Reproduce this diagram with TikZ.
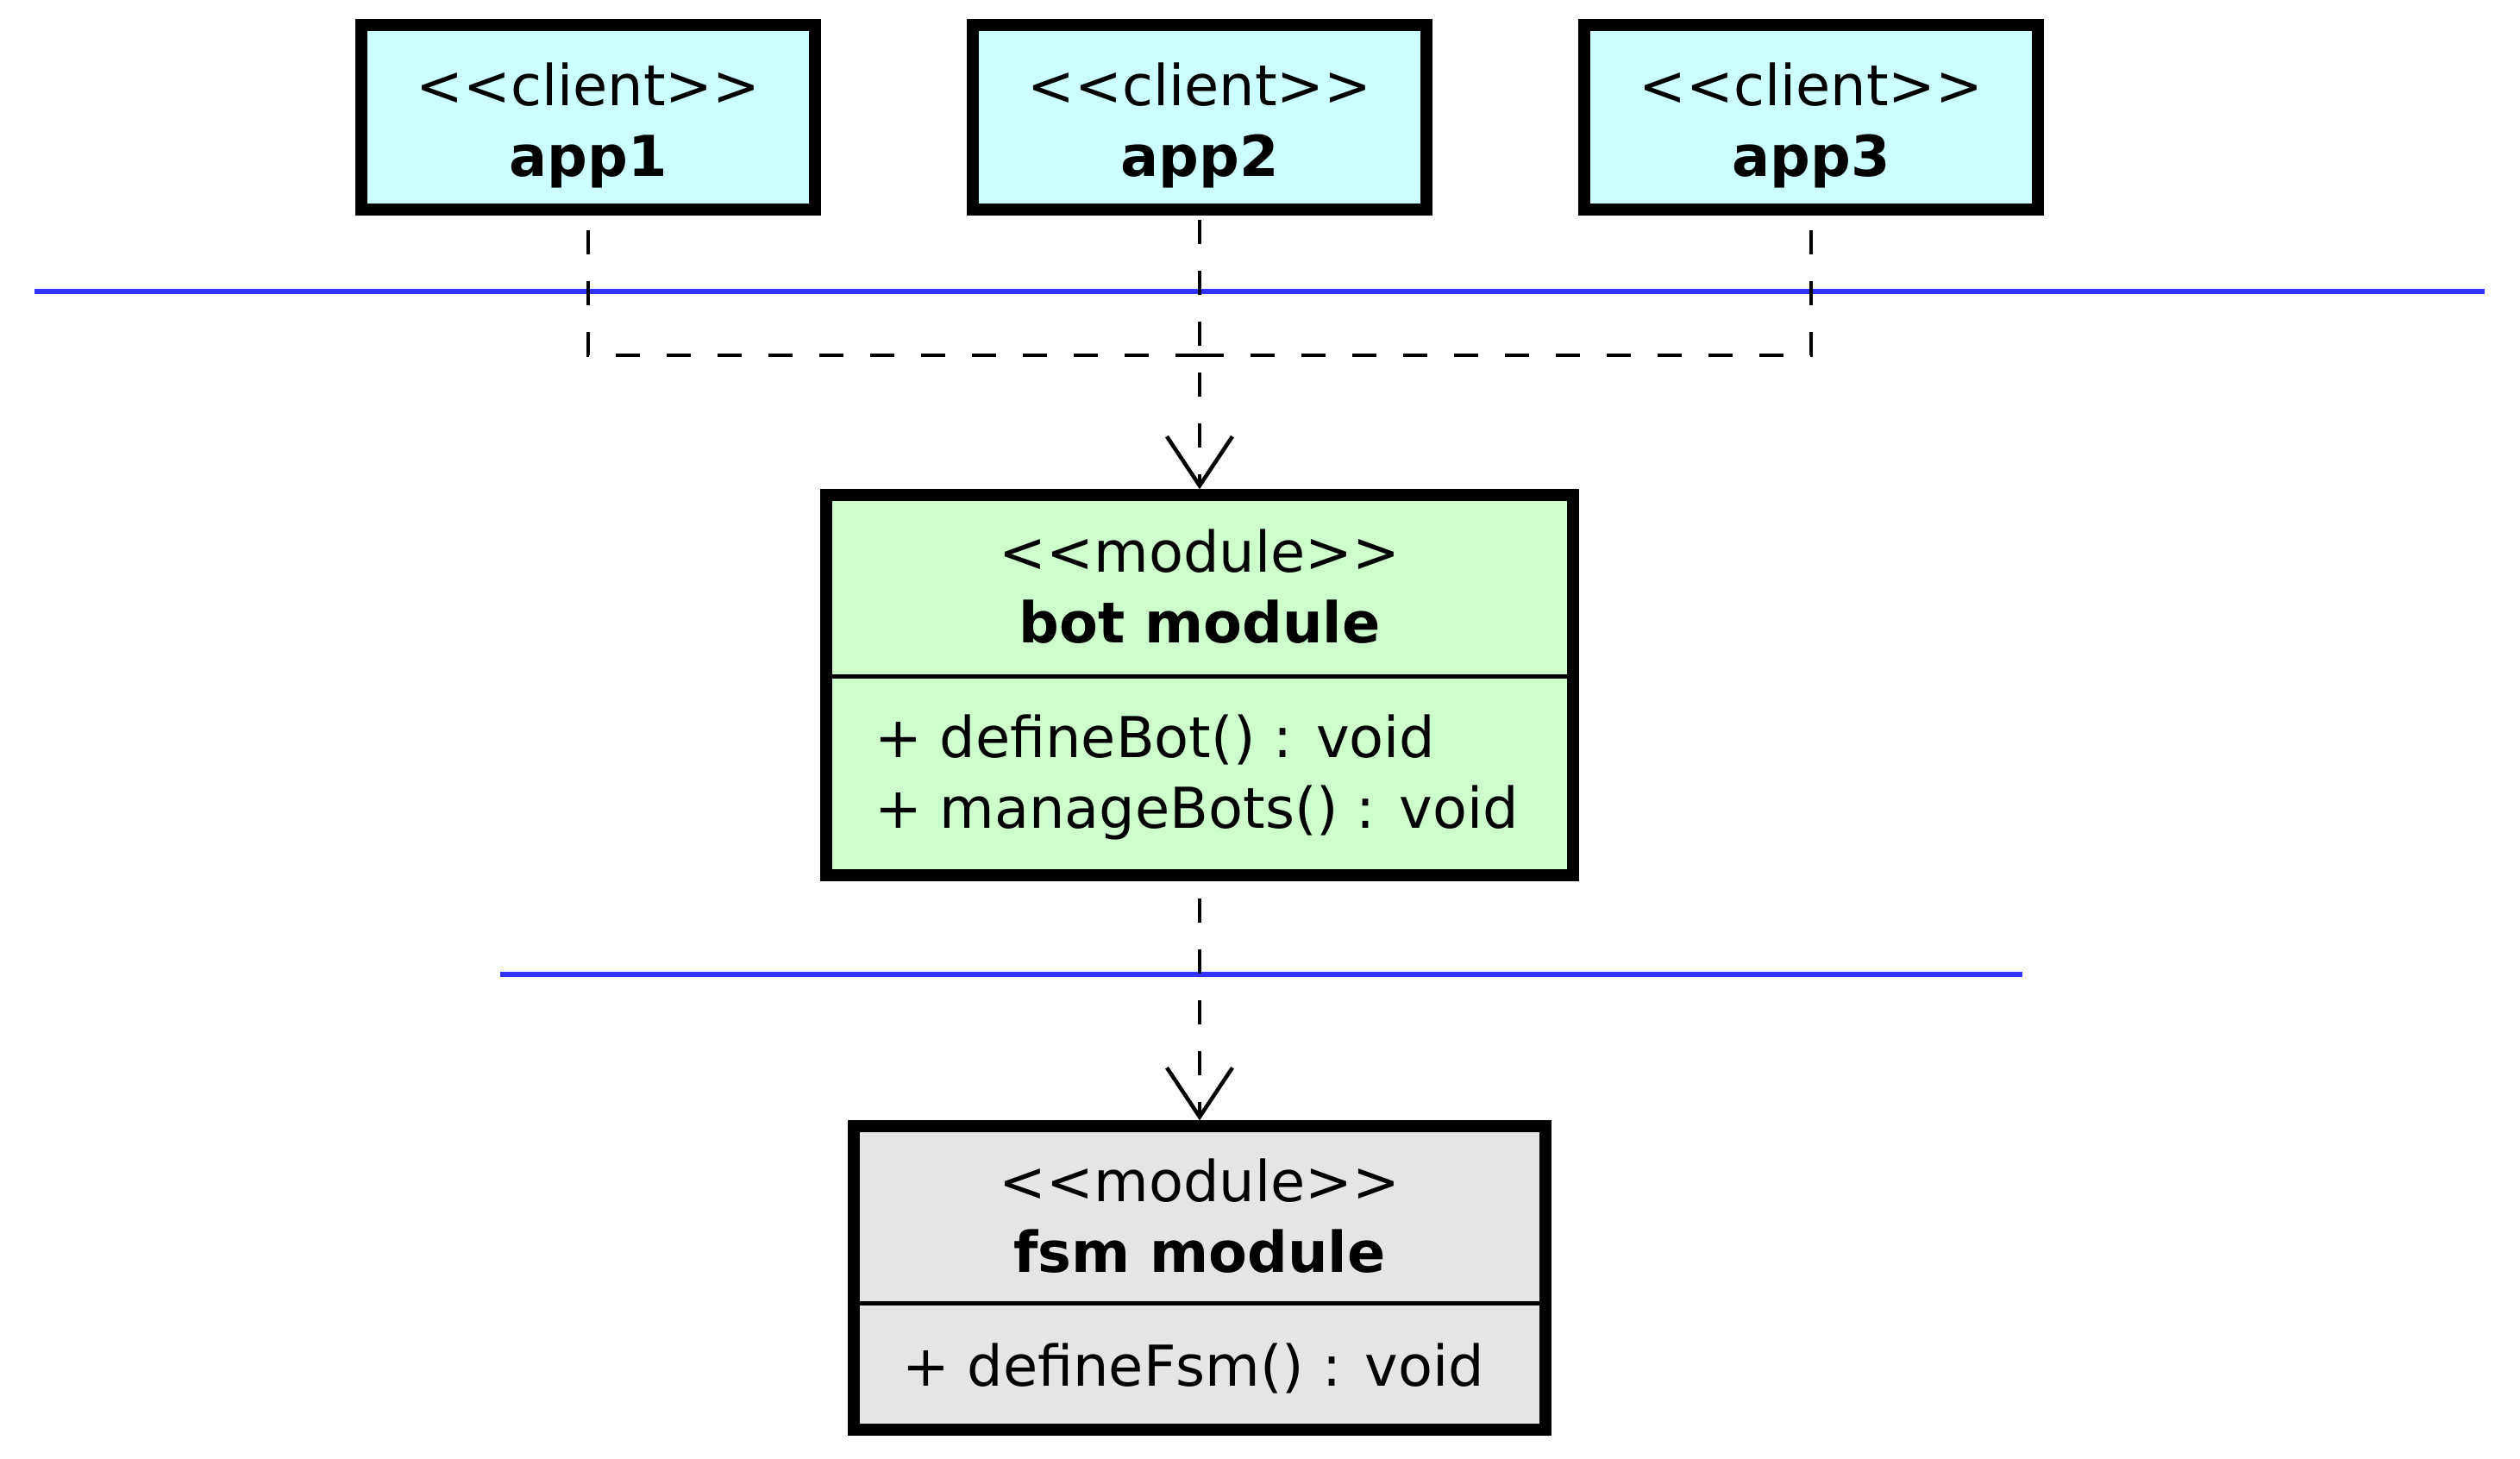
\documentclass[tikz,border=0pt]{standalone}
\usepackage{fontspec}
\setmainfont{DejaVu Sans}
\usetikzlibrary{calc, positioning}
\usetikzlibrary{arrows.meta}

\definecolor{clientfill}{HTML}{CCFFFF}
\definecolor{botfill}{HTML}{CCFFCC}
\definecolor{fsmfill}{HTML}{E5E5E5}
\definecolor{layerblue}{HTML}{3333FF}

\newcommand{\stereo}[1]{\textless\kern0pt\textless#1\textgreater\kern0pt\textgreater}

\begin{document}
\begin{tikzpicture}[
  font=\fontsize{18.6}{23.3}\selectfont,
  client/.style={draw, line width=3.8pt, fill=clientfill, minimum width=5.26cm, minimum height=2.14cm, align=center, inner sep=0pt},
  umlbox/.style={draw, line width=3.8pt, inner sep=0pt},
  title/.style={align=center, inner sep=0pt},
  ops/.style={align=left, inner sep=0pt, anchor=west},
  septhin/.style={line width=1.5pt},
  layer/.style={layerblue, line width=1.6pt},
  dep/.style={line width=1.3pt, dash pattern=on 0.28cm off 0.31cm},
  deparrow/.style={dep, -{Straight Barb[length=0.57cm, width=0.76cm]}}
]
\useasboundingbox (0,0) rectangle (29.22,-16.92);
\def\midx{13.91}
\coordinate (fork) at (\midx,-4.12);

% clients
\node[client] (app1) at (6.82,-1.36) {\rule{0pt}{0.68cm}\stereo{client}\\\textbf{app1}};
\node[client] (app2) at (\midx,-1.36) {\rule{0pt}{0.68cm}\stereo{client}\\\textbf{app2}};
\node[client] (app3) at (21.00,-1.36) {\rule{0pt}{0.68cm}\stereo{client}\\\textbf{app3}};

% modules
\node[umlbox, fill=botfill, minimum width=8.66cm, minimum height=4.41cm] (bot) at (\midx,-7.945) {};
\node[umlbox, fill=fsmfill, minimum width=8.02cm, minimum height=3.52cm] (fsm) at (\midx,-14.82) {};

\node[title] (bottitle) at ($(bot.north)+(0,-1.13)$) {\stereo{module}\\\textbf{bot module}};
\coordinate (botsep) at ($(bot.north)+(0,-2.17)$);
\draw[septhin] (bot.west |- botsep) -- (bot.east |- botsep);
\node[ops] (botops) at ($(bot.west |- botsep)+(0.62,-1.17)$) {+ defineBot() : void\\+ manageBots() : void};

\node[title] (fsmtitle) at ($(fsm.north)+(0,-1.11)$) {\stereo{module}\\\textbf{fsm module}};
\coordinate (fsmsep) at ($(fsm.north)+(0,-2.12)$);
\draw[septhin] (fsm.west |- fsmsep) -- (fsm.east |- fsmsep);
\node[ops] (fsmops) at ($(fsm.west |- fsmsep)+(0.62,-0.76)$) {+ defineFsm() : void};

% layer lines
\draw[layer] (0.40,-3.38) -- (28.81,-3.38);
\draw[layer] (5.80,-11.30) -- (23.45,-11.30);

% dependencies
\draw[dep, shorten <=0.17cm] (app1) |- (fork);
\draw[dep, shorten <=0.17cm] (app3) |- (fork);
\draw[deparrow, shorten <=0.05cm] (app2) -- (bot);
\draw[deparrow, shorten <=0.2cm] (bot) -- (fsm);
\end{tikzpicture}
\end{document}
